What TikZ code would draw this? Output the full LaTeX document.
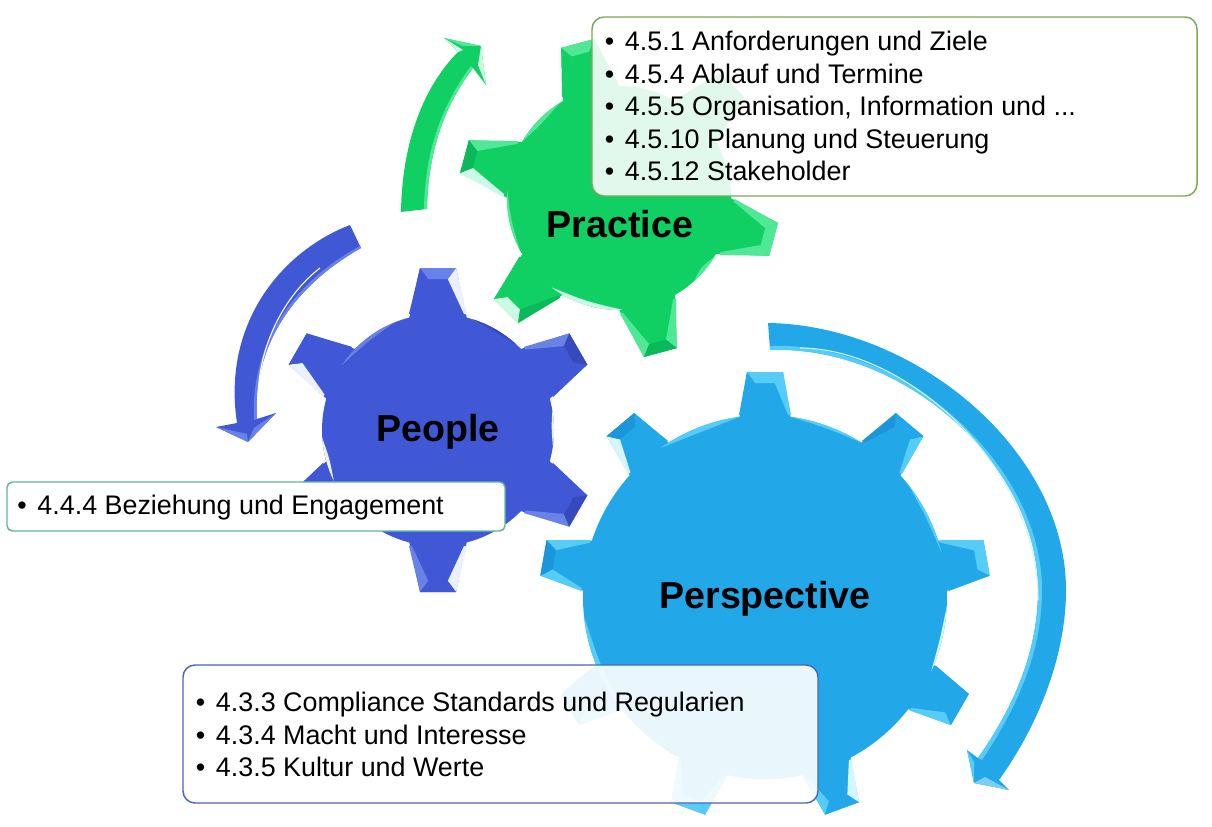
\documentclass[tikz,border=0pt]{standalone}
\usepackage{fontspec}
\setmainfont{Liberation Sans}
\definecolor{peB}{RGB}{64,88,214}\definecolor{peD}{RGB}{54,74,190}\definecolor{peL}{RGB}{105,130,232}\definecolor{peH}{RGB}{235,240,255}
\definecolor{prB}{RGB}{16,208,100}\definecolor{prD}{RGB}{12,185,90}\definecolor{prL}{RGB}{80,232,150}\definecolor{prH}{RGB}{205,250,230}
\definecolor{psB}{RGB}{34,168,232}\definecolor{psD}{RGB}{28,150,218}\definecolor{psL}{RGB}{85,205,248}\definecolor{psH}{RGB}{215,245,255}
\tikzset{
  gearlabel/.style={font=\fontsize{28.2}{32}\selectfont\bfseries,text=black,inner sep=0pt},
  listbox/.style={rounded corners=9pt,line width=1.1pt,fill=white,inner sep=0pt,minimum height=10pt,text opacity=1},
  listtext/.style={font=\fontsize{20.15}{24.4}\selectfont,align=left,inner sep=0pt,anchor=north west,text=black}
}
\newcommand{\gearset}[7]{\def\gc{#1}\def\gR{#2}\def\gT{#3}\def\gW{#4}\def\gt{#5}\def\gb{#6}\def\gP{#7}}
% angle, colour of ccw side, of tip, of cw side
\newcommand{\tooth}[4]{\begin{scope}[rotate=#1]
  \fill[\gc B] (\gR-5,\gW) -- (\gT,\gt) -- (\gT,-\gt) -- (\gR-5,-\gW) -- cycle;
  \fill[#2] (\gR,\gW) -- (\gT,\gt) -- (\gT-\gb,\gt-\gb*.75) -- (\gR,\gW-3) -- cycle;
  \fill[#4] (\gR,-\gW) -- (\gT,-\gt) -- (\gT-\gb,-\gt+\gb*.75) -- (\gR,-\gW+3) -- cycle;
  \fill[#3] (\gT,\gt) -- (\gT,-\gt) -- (\gT-\gb,-\gt+\gb*.75) -- (\gT-\gb,\gt-\gb*.75) -- cycle;
\end{scope}}
% crescent highlight from angle to angle, colour, thickness
\newcommand{\rim}[4]{\pgfmathsetmacro{\gm}{(#1+#2)/2}\pgfmathsetmacro{\gq}{2*\gR-2*#4-\gR*cos((#2-#1)/2)}
  \fill[#3] (#1:\gR) arc[start angle=#1,end angle=#2,radius=\gR] .. controls (\gm:\gq) .. (#1:\gR) -- cycle;}
\newcommand{\hub}{\fill[\gc B] (0,0) circle[radius=\gR];}
\newcommand{\bul}{\makebox[15pt][l]{•}}
\begin{document}
\begin{tikzpicture}[x=0.75pt,y=-0.75pt]
\useasboundingbox (0,0) rectangle (1212,827);

% People gear
\begin{scope}[shift={(438,430)},y=0.75pt]
  \gearset{pe}{116}{162}{29}{18}{11}{0}
  \tooth{90}{peB}{peL}{peH}
  \tooth{30}{peL}{peD}{peB}
  \tooth{-30}{peB}{peD}{peL}
  \tooth{-90}{peH}{peB}{peL}
  \tooth{210}{peB}{peB}{peB}
  \tooth{150}{peH}{peB}{peB}
  \hub
  \rim{112}{146}{peL}{4}
  \rim{184}{206}{peH}{3}
  \rim{-8}{10}{peH}{2}
  \rim{48}{72}{peD}{3}
\end{scope}

% Practice gear
\begin{scope}[shift={(619,198)},y=0.75pt]
  \gearset{pr}{112}{160}{29}{17}{11}{0}
  \tooth{-15}{prL}{prL}{prL}
  \tooth{45}{prB}{prB}{prB}
  \tooth{105}{prB}{prL}{prB}
  \tooth{165}{prH}{prD}{prL}
  \tooth{225}{prD}{prH}{prB}
  \tooth{285}{prL}{prD}{prL}
  \hub
  \rim{122}{150}{prL}{4}
  \rim{176}{208}{prL}{3}
  \rim{233}{272}{prH}{5}
  \rim{-48}{-32}{prL}{3}
\end{scope}

% Perspective gear
\begin{scope}[shift={(765,597)},y=0.75pt]
  \gearset{ps}{182}{225}{26}{18}{11}{0}
  \tooth{90}{psB}{psL}{psL}
  \tooth{50}{psD}{psB}{psL}
  \tooth{10}{psL}{psL}{psB}
  \tooth{-30}{psB}{psB}{psL}
  \tooth{-70}{psH}{psB}{psL}
  \tooth{-110}{psL}{psL}{psL}
  \tooth{210}{psL}{psB}{psB}
  \tooth{170}{psL}{psD}{psL}
  \tooth{130}{psH}{psD}{psB}
  \hub
  \rim{98}{125}{psL}{5}
  \rim{58}{82}{psL}{3}
  \rim{14}{38}{psL}{3}
  \rim{-24}{-3}{psH}{2.5}
  \rim{186}{222}{psL}{6}
\end{scope}

% Practice arrow
\coordinate (prA) at (401,212);
\coordinate (prC) at (427,209);
\fill[prB] (prA) .. controls (402,140) and (425,85) .. (458,52) -- (444,38) -- (481,46) -- (486,85) -- (473,68)
   .. controls (445,105) and (428,150) .. (prC) -- cycle;
\fill[prL] (473,68) .. controls (445,105) and (428,150) .. (prC) -- (424,209) .. controls (425,150) and (442,105) .. (471,66) -- cycle;
\fill[prH] (444,38) -- (458,52) -- (463,50) -- cycle;
\fill[prL] (444,38) -- (481,46) -- (463,46) -- cycle;
\fill[prH] (486,85) -- (481,46) -- (478,65) -- cycle;

% People arrow
\coordinate (peA) at (350,225);
\coordinate (peC) at (361,248);
\fill[peB] (peA) .. controls (280,252) and (222,325) .. (237,423) -- (216,427) -- (248,442) -- (276,413) -- (257,419)
   .. controls (252,345) and (295,285) .. (peC) -- cycle;
\fill[peL] (257,419) .. controls (252,345) and (295,285) .. (peC) -- (360,246) .. controls (292,283) and (250,345) .. (254,420) -- cycle;
\draw[white,line width=.8pt] (258,400) .. controls (258,345) and (285,295) .. (320,268);
\fill[peL] (216,427) -- (248,442) -- (247,434) -- cycle;
\fill[peL] (248,442) -- (276,413) -- (254,428) -- cycle;

% Perspective arrow
\coordinate (psA) at (768,323);
\coordinate (psC) at (770,350);
\fill[psB] (psA) .. controls (915,325) and (1066,450) .. (1066,590) .. controls (1066,660) and (1035,730) .. (999,780)
   -- (1009,790) -- (974,783) -- (967,750) -- (978,758)
   .. controls (1015,705) and (1038,650) .. (1038,590) .. controls (1038,465) and (905,345) .. (psC) -- cycle;
\fill[psL] (978,758) .. controls (1015,705) and (1038,650) .. (1038,590) .. controls (1038,465) and (905,345) .. (psC) -- (770,346) .. controls (905,341) and (1042,465) .. (1042,590) .. controls (1042,650) and (1019,705) .. (982,760) -- cycle;
\draw[psH,line width=.8pt] (1038,600) .. controls (1038,465) and (905,348) .. (800,348);
\fill[psL] (974,783) -- (967,750) -- (974,762) -- cycle;
\fill[psH!50!psB] (974,783) -- (1009,790) -- (985,777) -- cycle;

% Boxes
\node[listbox,draw={rgb,255:red,122;green,170;blue,85},fill opacity=.88,minimum width=605*.75pt,minimum height=179*.75pt] (boxPr) at (894.5,106.5) {};
\node[listtext] (txtPr) at (604.7,31) {\bul 4.5.1 Anforderungen und Ziele\\\bul 4.5.4 Ablauf und Termine\\\bul 4.5.5 Organisation, Information und ...\\\bul 4.5.10 Planung und Steuerung\\\bul 4.5.12 Stakeholder};

\node[listbox,rounded corners=4pt,draw={rgb,255:red,95;green,185;blue,155},minimum width=498*.75pt,minimum height=49*.75pt] (boxPe) at (256,506.5) {};
\node[listtext] (txtPe) at (17.2,495) {\bul 4.4.4 Beziehung und Engagement};

\node[listbox,draw={rgb,255:red,74;green,102;blue,184},fill opacity=.9,minimum width=635*.75pt,minimum height=138*.75pt] (boxPs) at (500.5,734) {};
\node[listtext] (txtPs) at (195.7,692) {\bul 4.3.3 Compliance Standards und Regularien\\\bul 4.3.4 Macht und Interesse\\\bul 4.3.5 Kultur und Werte};

% Gear names
\node[gearlabel] (lblPr) at (620,224) {Practice};
\node[gearlabel] (lblPe) at (438,432) {People};
\node[gearlabel] (lblPs) at (765,599) {Perspective};
\end{tikzpicture}
\end{document}
